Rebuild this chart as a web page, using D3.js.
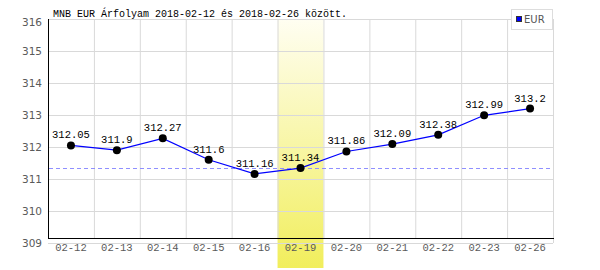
<!DOCTYPE html>
<html>
<head>
<meta charset="utf-8">
<script src="https://cdn.jsdelivr.net/npm/d3@7"></script>
<style>
  body { margin: 0; background: #fff; }
  svg text { font-family: "Liberation Mono", "DejaVu Sans Mono", monospace; }
  .tick line { stroke: #d9d9d9; }
  .domain { display: none; }
</style>
</head>
<body>
<div id="chart"></div>
<script>
// chart data
const dates = ["02-12", "02-13", "02-14", "02-15", "02-16", "02-19", "02-20", "02-21", "02-22", "02-23", "02-26"]
const values = [312.05, 311.9, 312.27, 311.6, 311.16, 311.34, 311.86, 312.09, 312.38, 312.99, 313.2]
const y_ticks = [309, 310, 311, 312, 313, 314, 315, 316]
const highlight_date = "02-19"
const series_name = "EUR"
const title_text = "MNB EUR Árfolyam 2018-02-12 és 2018-02-26 között."

const chart_w = 600, chart_h = 270
const p_left = 48, p_right = 553, p_top = 19, p_bottom = 243

const svg = d3.select("#chart")
    .append("svg")
    .attr("width", chart_w)
    .attr("height", chart_h)

const x = d3.scaleBand()
    .domain(dates)
    .range([p_left, p_right])

const y = d3.scaleLinear()
    .domain([d3.min(y_ticks), d3.max(y_ticks)])
    .range([p_bottom, p_top])

let grad = svg.append("defs").append("linearGradient")
    .attr("id", "hl_grad")
    .attr("x1", 0).attr("y1", 0).attr("x2", 0).attr("y2", 1)
grad.append("stop").attr("offset", "0%").attr("stop-color", "#fffef2")
grad.append("stop").attr("offset", "100%").attr("stop-color", "#f1ee5c")

// highlighted day
svg.append("rect")
    .attr("x", x(highlight_date))
    .attr("y", p_top)
    .attr("width", x.bandwidth())
    .attr("height", 268 - p_top)
    .attr("fill", "url(#hl_grad)")

// horizontal grid + y labels
svg.append("g")
    .attr("transform", "translate(" + p_left + ",0)")
    .call(d3.axisLeft(y)
        .tickValues(y_ticks)
        .tickFormat(d3.format("d"))
        .tickSizeInner(-(p_right - p_left))
        .tickSizeOuter(0)
        .tickPadding(6))
    .call(g => g.selectAll(".tick text")
        .attr("fill", "#5a5a5a")
        .style("font-size", "10.5px")
        .style("font-family", "DejaVu Sans, sans-serif")
        .attr("dy", d => d === d3.max(y_ticks) ? "0.6em" : "0.35em"))

// vertical grid lines at band edges
svg.append("g")
    .selectAll("line")
    .data(dates.slice(1))
    .enter()
    .append("line")
    .attr("x1", d => x(d) + 0.5)
    .attr("x2", d => x(d) + 0.5)
    .attr("y1", p_top)
    .attr("y2", p_bottom - 5)
    .attr("stroke", "#d9d9d9")

svg.append("line")
    .attr("x1", p_right + 0.5).attr("x2", p_right + 0.5)
    .attr("y1", p_top).attr("y2", p_bottom)
    .attr("stroke", "#d9d9d9")

// x labels
svg.append("g")
    .attr("transform", "translate(0," + (p_bottom - 5) + ")")
    .call(d3.axisBottom(x)
        .tickSize(0)
        .tickPadding(6))
    .call(g => g.selectAll(".tick text")
        .attr("fill", "#5a5a5a")
        .style("font-size", "10.5px"))

// axis lines
svg.append("line")
    .attr("x1", p_left + 0.5).attr("x2", p_left + 0.5)
    .attr("y1", p_top).attr("y2", p_bottom - 4.5)
    .attr("stroke", "#000")
svg.append("line")
    .attr("x1", p_left).attr("x2", p_right + 1)
    .attr("y1", p_bottom - 4.5).attr("y2", p_bottom - 4.5)
    .attr("stroke", "#000")

// reference line at the highlighted value
const hl_value = values[dates.indexOf(highlight_date)]
svg.append("line")
    .attr("x1", p_left + 1).attr("x2", p_right)
    .attr("y1", Math.round(y(hl_value)) + 0.5)
    .attr("y2", Math.round(y(hl_value)) + 0.5)
    .attr("stroke", "#8f8fff")
    .attr("stroke-dasharray", "4,3")

const cx = (d, i) => x(dates[i]) + x.bandwidth() / 2

svg.append("path")
    .datum(values)
    .attr("fill", "none")
    .attr("stroke", "#0000ff")
    .attr("stroke-width", 1.2)
    .attr("d", d3.line()
        .x((d, i) => cx(d, i))
        .y(d => y(d)))

svg.selectAll(".dot")
    .data(values)
    .enter()
    .append("circle")
    .attr("cx", cx)
    .attr("cy", d => y(d))
    .attr("r", 4)
    .attr("fill", "#000")

svg.selectAll(".val")
    .data(values)
    .enter()
    .append("text")
    .attr("x", cx)
    .attr("y", d => y(d) - 7)
    .attr("text-anchor", "middle")
    .style("font-size", "10.5px")
    .attr("fill", "#000")
    .text(d => String(d))

// title
svg.append("text")
    .attr("x", 53)
    .attr("y", 17)
    .style("font-size", "10px")
    .attr("fill", "#000")
    .text(title_text)

// legend
svg.append("rect")
    .attr("x", 511.5).attr("y", 9.5)
    .attr("width", 41).attr("height", 20)
    .attr("fill", "#fff")
    .attr("stroke", "#ddd")
svg.append("rect")
    .attr("x", 516.5).attr("y", 16.5)
    .attr("width", 5).attr("height", 5)
    .attr("fill", "#0000ff")
    .attr("stroke", "#333")
svg.append("text")
    .attr("x", 524)
    .attr("y", 23)
    .attr("fill", "#555")
    .style("font-size", "10px")
    .style("font-family", "DejaVu Sans, sans-serif")
    .text(series_name)
</script>
</body>
</html>
